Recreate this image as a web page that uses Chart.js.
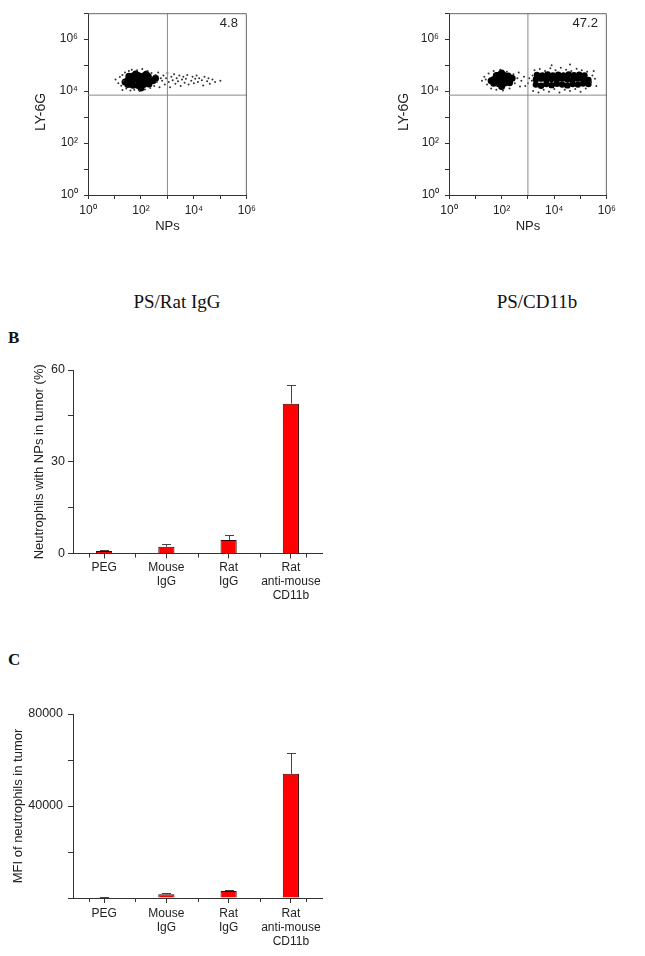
<!DOCTYPE html>
<html>
<head>
<meta charset="utf-8">
<script src="https://cdn.jsdelivr.net/npm/chart.js@4.4.1/dist/chart.umd.min.js"></script>
<style>
  body { margin: 0; width: 645px; height: 956px; background: #fff; position: relative; overflow: hidden; }
  canvas { position: absolute; }
  .serif { position: absolute; font-family: 'Liberation Serif', 'Times New Roman', serif; color: #111; line-height: 1; white-space: nowrap; }
  .letter { font-weight: bold; font-size: 17px; }
  .caption { font-size: 19px; transform: translateX(-50%); }
</style>
</head>
<body>
<canvas id="dotRat" width="260" height="240" style="left:0;top:0"></canvas>
<canvas id="dotCd11b" width="300" height="240" style="left:320px;top:0"></canvas>
<div class="serif caption" style="left:177px;top:292px">PS/Rat IgG</div>
<div class="serif caption" style="left:537px;top:292px">PS/CD11b</div>

<div class="serif letter" style="left:8px;top:329px">B</div>
<canvas id="barPct" width="340" height="275" style="left:0;top:340px"></canvas>

<div class="serif letter" style="left:8px;top:651px">C</div>
<canvas id="barMfi" width="340" height="265" style="left:0;top:690px"></canvas>

<script>
const SANS = "'Liberation Sans', Arial, sans-serif";
const INK = '#222';

// flow plots, values in fluorescence units (NPs, LY-6G)
// "core" = the solid black part of each cloud, "dots" = the loose events
const ratIgGCore = [
  [32, 17800], [50, 17000], [79, 16600], [126, 17800], [200, 18600],
  [32, 26300], [50, 27500], [79, 26300], [126, 25100], [200, 26300],
  [35, 37000], [50, 38000], [79, 39800], [126, 38000], [190, 36300],
  [25, 22400], [282, 25100], [355, 31600], [63, 46000], [100, 13200], [158, 45000]
];
const ratIgGDots = [
  [11, 28000], [14, 20000], [16, 35000], [18, 16000], [20, 42000], [20, 11000], [22, 25000],
  [25, 52000], [28, 12600], [35, 60000], [40, 10500], [45, 66000], [56, 11200], [71, 63000],
  [89, 10000], [112, 71000], [141, 11500], [178, 60000], [224, 13200], [251, 50000], [316, 15800],
  [355, 42000], [398, 22400], [447, 52000], [501, 14100], [562, 31600], [631, 25100], [708, 39800],
  [794, 17800], [891, 31600], [1000, 50000], [1120, 22400], [1260, 14100], [1410, 35500],
  [1580, 26300], [1780, 44700], [2000, 19100], [2240, 31600], [2510, 24000], [2820, 39800],
  [3160, 15800], [3550, 28200], [3980, 35500], [4470, 20900], [5010, 30200], [5620, 41700],
  [6310, 17800], [7940, 25100], [8910, 35500], [10000, 20000], [11200, 30200], [12600, 39800],
  [14100, 22400], [15800, 31600], [20000, 26300], [22400, 16600], [25100, 35500], [31600, 24000],
  [35500, 31600], [39800, 19100], [50000, 28200], [63000, 22400], [100000, 25100]
];
const cd11bCore = [
  [50, 20000], [79, 19000], [126, 20000], [200, 21000],
  [50, 28200], [79, 28200], [126, 29500], [200, 28200],
  [63, 39800], [79, 41000], [126, 39800], [178, 38000],
  [40, 25100], [251, 31600], [100, 15000], [100, 50000],
  [2000, 17800], [3160, 16000], [5010, 18600], [7940, 17000], [12600, 19000], [20000, 17800],
  [31600, 16600], [50100, 18600], [79400, 17800], [126000, 19500], [200000, 18600],
  [2000, 28200], [3160, 30200], [5010, 27500], [7940, 29500], [12600, 28200], [20000, 30200],
  [31600, 28200], [50100, 27500], [79400, 30200], [126000, 28200], [200000, 27000],
  [2200, 41700], [3550, 40000], [5620, 43700], [8900, 40000], [14100, 42700], [22400, 39800],
  [35500, 43700], [56200, 40700], [89100, 42700], [141000, 40000]
];
const cd11bDots = [
  [18, 25100], [22, 35500], [28, 17800], [32, 47900], [40, 12600], [50, 60000], [63, 11200],
  [89, 66000], [112, 10500], [158, 56000], [200, 12600], [282, 44700], [316, 20000], [398, 31600],
  [447, 52000], [562, 25100], [708, 35500], [794, 15800], [25, 28200], [501, 15100],
  [1000, 20000], [1120, 31600],
  [1410, 25100], [1510, 39800], [1580, 10000], [1780, 63000], [2510, 8900], [2820, 71000],
  [3980, 11200], [4470, 60000], [6310, 9550], [7080, 76000], [10000, 12000], [11200, 63000],
  [15800, 8900], [17800, 79400], [25100, 11200], [28200, 66000], [39800, 10000], [44700, 60000],
  [63000, 12000], [70800, 72000], [100000, 9550], [112000, 63000], [158000, 12600],
  [178000, 56000], [251000, 22400], [282000, 39800], [355000, 30200], [398000, 15800],
  [316000, 60000], [7940, 100000], [39800, 105000]
];
const gateNPs = 1000;
const gateLy6g = 7000;
const decades = [0, 1, 2, 3, 4, 5, 6, 7];
const SUP = { 0: '\u2070', 2: '\u00b2', 4: '\u2074', 6: '\u2076' };

// bar panels
const groups = ['PEG', ['Mouse', 'IgG'], ['Rat', 'IgG'], ['Rat', 'anti-mouse', 'CD11b']];
const pctWithNPs = [0.8, 2.2, 4.4, 49];
const pctErr = [0.4, 0.8, 1.6, 6];
const mfiValues = [300, 1600, 3000, 54000];
const mfiErr = [200, 400, 300, 9000];
const halfTicks = [-0.25, 0.5, 1.5, 2.5, 3.25];

const pts = arr => arr.map(p => ({ x: p[0], y: p[1] }));

// top/right box edges + quadrant percentage
const frame = {
  id: 'frame',
  afterDraw(chart, args, opts) {
    if (!opts.label) return;
    const { ctx, chartArea: a } = chart;
    ctx.save();
    ctx.strokeStyle = '#666';
    ctx.lineWidth = 1;
    ctx.beginPath();
    ctx.moveTo(a.left, a.top + 0.5);
    ctx.lineTo(a.right - 0.5, a.top + 0.5);
    ctx.lineTo(a.right - 0.5, a.bottom);
    ctx.stroke();
    ctx.fillStyle = INK;
    ctx.font = '13px ' + SANS;
    ctx.textAlign = 'right';
    ctx.textBaseline = 'middle';
    ctx.fillText(opts.label, a.right - 9, a.top + 10);
    ctx.restore();
  }
};

const errorBars = {
  id: 'errorBars',
  afterDatasetsDraw(chart, args, opts) {
    if (!opts.errors) return;
    const { ctx, scales: { x, y } } = chart;
    const vals = chart.data.datasets[0].data;
    ctx.save();
    ctx.strokeStyle = '#444';
    ctx.lineWidth = 1;
    chart.getDatasetMeta(0).data.forEach((bar, i) => {
      const top = Math.round(y.getPixelForValue(vals[i] + opts.errors[i])) + 0.5;
      const cx = Math.round(bar.x) + 0.5;
      ctx.beginPath();
      ctx.moveTo(cx, bar.y);
      ctx.lineTo(cx, top);
      ctx.moveTo(cx - 4.5, top);
      ctx.lineTo(cx + 4.5, top);
      ctx.stroke();
    });
    // small ticks between the groups
    ctx.strokeStyle = '#333';
    ctx.beginPath();
    halfTicks.forEach(v => {
      const px = Math.round(x.getPixelForValue(v)) + 0.5;
      ctx.moveTo(px, y.bottom);
      ctx.lineTo(px, y.bottom + 4);
    });
    ctx.stroke();
    ctx.restore();
  }
};

Chart.register(frame, errorBars);

function logAxis(max, title, size, fit, titlePad) {
  const horizontal = fit === 'h';
  return {
    type: 'logarithmic',
    min: 1,
    max: max,
    afterBuildTicks: s => { s.ticks = decades.filter(e => 10 ** e <= max).map(e => ({ value: 10 ** e })); },
    afterFit: s => { if (horizontal) s.height = size; else s.width = size; },
    ticks: {
      autoSkip: false,
      padding: horizontal ? 4 : 6,
      color: INK,
      font: { family: SANS, size: 12 },
      callback: v => {
        const e = Math.round(Math.log10(v));
        return e % 2 ? '' : '10' + SUP[e];
      }
    },
    grid: { drawOnChartArea: false, tickLength: 4, color: '#333' },
    border: { color: '#333' },
    title: {
      display: true,
      text: title,
      color: INK,
      font: { family: SANS, size: horizontal ? 13 : 14 },
      padding: horizontal ? { top: 0, bottom: titlePad } : { top: titlePad, bottom: 0 }
    }
  };
}

function flowChart(id, core, dots, pct, yWidth, yTitlePad, padRight) {
  return new Chart(document.getElementById(id), {
    type: 'scatter',
    data: {
      datasets: [
        { data: [{ x: gateNPs, y: 1 }, { x: gateNPs, y: 1e7 }], showLine: true, borderColor: '#8a8a8a', borderWidth: 1, pointRadius: 0 },
        { data: [{ x: 1, y: gateLy6g }, { x: 1e6, y: gateLy6g }], showLine: true, borderColor: '#8a8a8a', borderWidth: 1, pointRadius: 0 },
        { data: pts(dots), pointRadius: 1, backgroundColor: '#333', borderWidth: 0 },
        {
          data: pts(core),
          // the NP-positive cloud is a bit looser than the negative one
          pointRadius: c => (c.raw && c.raw.x > gateNPs ? 3.2 : 3.5),
          backgroundColor: '#000',
          borderWidth: 0
        }
      ]
    },
    options: {
      responsive: false,
      animation: false,
      events: [],
      layout: { padding: { top: 9, right: padRight, left: 0, bottom: 0 } },
      plugins: { legend: { display: false }, tooltip: { enabled: false }, frame: { label: pct } },
      scales: {
        x: logAxis(1e6, 'NPs', 45, 'h', 6),
        y: logAxis(1e7, 'LY-6G\u00a0\u00a0\u00a0\u00a0', yWidth, 'v', yTitlePad)
      }
    }
  });
}

function barChart(id, values, errors, cfg) {
  return new Chart(document.getElementById(id), {
    type: 'bar',
    data: {
      labels: groups,
      datasets: [{
        data: values,
        backgroundColor: '#ff0000',
        borderColor: '#3a0000',
        borderWidth: 1,
        barPercentage: 0.26,
        categoryPercentage: 1
      }]
    },
    options: {
      responsive: false,
      animation: false,
      events: [],
      layout: { padding: { top: cfg.top, right: 18, left: 0, bottom: 0 } },
      plugins: { legend: { display: false }, tooltip: { enabled: false }, errorBars: { errors: errors } },
      scales: {
        x: {
          offset: true,
          afterFit: s => { s.height = cfg.xHeight; },
          grid: { offset: false, drawOnChartArea: false, tickLength: 5, color: '#333' },
          border: { color: '#333' },
          ticks: {
            autoSkip: false, maxRotation: 0, padding: cfg.xPad, color: INK,
            font: { family: SANS, size: 12, lineHeight: 1.17 }
          }
        },
        y: {
          min: 0,
          max: cfg.max,
          afterFit: s => { s.width = 73; },
          grid: { drawOnChartArea: false, tickLength: 5, color: '#333' },
          border: { color: '#333' },
          ticks: {
            stepSize: cfg.step, padding: cfg.yPad, color: INK,
            font: { family: SANS, size: 12.5 },
            callback: v => cfg.labelled.includes(v) ? String(v) : ''
          },
          title: {
            display: true, text: cfg.title, color: INK,
            font: { family: SANS, size: 13 },
            padding: { top: cfg.titlePad, bottom: 0 }
          }
        }
      }
    }
  });
}

flowChart('dotRat', ratIgGCore, ratIgGDots, '4.8', 88, 33, 12);
flowChart('dotCd11b', cd11bCore, cd11bDots, '47.2', 129, 76, 11);

barChart('barPct', pctWithNPs, pctErr, {
  top: 30, xHeight: 61.5, xPad: 2.5, yPad: 3, max: 60, step: 15, labelled: [0, 30, 60],
  title: 'Neutrophils with NPs in tumor (%)', titlePad: 32
});
barChart('barMfi', mfiValues, mfiErr, {
  top: 24, xHeight: 57, xPad: 3.7, yPad: 5, max: 80000, step: 20000, labelled: [40000, 80000],
  title: 'MFI of neutrophils in tumor', titlePad: 11
});
</script>
</body>
</html>
